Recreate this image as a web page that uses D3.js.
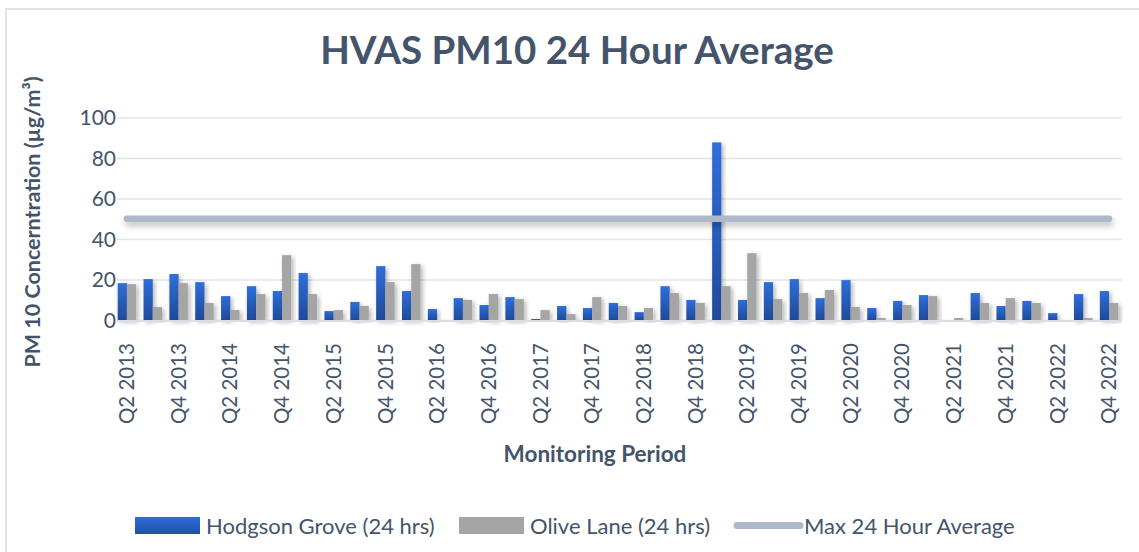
<!DOCTYPE html>
<html>
<head>
<meta charset="utf-8">
<script src="https://cdn.jsdelivr.net/npm/d3@7"></script>
<style>
  body { margin: 0; background: #fff; }
  text { font-family: Lato, "Open Sans", sans-serif; fill: #44546a; }
</style>
</head>
<body>
<div id="chart"></div>
<script>
// quarters, Q2 2013 .. Q4 2022
const periods = [
  'Q2 2013','Q3 2013','Q4 2013',
  'Q1 2014','Q2 2014','Q3 2014','Q4 2014',
  'Q1 2015','Q2 2015','Q3 2015','Q4 2015',
  'Q1 2016','Q2 2016','Q3 2016','Q4 2016',
  'Q1 2017','Q2 2017','Q3 2017','Q4 2017',
  'Q1 2018','Q2 2018','Q3 2018','Q4 2018',
  'Q1 2019','Q2 2019','Q3 2019','Q4 2019',
  'Q1 2020','Q2 2020','Q3 2020','Q4 2020',
  'Q1 2021','Q2 2021','Q3 2021','Q4 2021',
  'Q1 2022','Q2 2022','Q3 2022','Q4 2022'
];

const hodgsonGrove = [18.2, 20.2, 22.7, 18.7, 11.8, 16.7, 14.3, 23.2, 4.4, 8.9,
  26.6, 14.3, 5.4, 10.8, 7.4, 11.3, 0.5, 6.9, 5.9, 8.4,
  3.9, 16.7, 9.9, 87.7, 9.9, 18.7, 20.2, 10.8, 19.7, 5.9,
  9.4, 12.3, 0, 13.3, 6.9, 9.4, 3.4, 12.8, 14.3];

const oliveLane = [17.7, 6.4, 18.2, 8.4, 4.9, 12.8, 32.0, 12.8, 4.9, 6.9,
  18.7, 27.6, 0, 9.9, 12.8, 10.3, 4.9, 2.9, 11.3, 6.9,
  5.9, 13.3, 8.4, 16.7, 33.0, 10.3, 13.3, 14.8, 6.4, 1.0,
  7.4, 11.8, 1.0, 8.4, 10.8, 8.4, 0, 1.0, 8.4];

const maxAverage = 50; // criteria line
const yTicks = [0, 20, 40, 60, 80, 100];
const seriesNames = ['Hodgson Grove (24 hrs)', 'Olive Lane (24 hrs)', 'Max 24 Hour Average'];

const width = 1139;
const height = 552;
const plot = { left: 114, right: 1122, top: 117.5, bottom: 320 };

const svg = d3.select('#chart')
  .append('svg')
  .attr('width', width)
  .attr('height', height)
  .style('display', 'block');

const defs = svg.append('defs');

const grad = defs.append('linearGradient')
  .attr('id', 'blueGrad')
  .attr('x1', 0).attr('y1', 0).attr('x2', 0).attr('y2', 1);
grad.append('stop').attr('offset', '0%').attr('stop-color', '#2f6edc');
grad.append('stop').attr('offset', '100%').attr('stop-color', '#1f4a99');

const legendGrad = defs.append('linearGradient')
  .attr('id', 'blueGradLegend')
  .attr('x1', 0).attr('y1', 0).attr('x2', 0).attr('y2', 1);
legendGrad.append('stop').attr('offset', '0%').attr('stop-color', '#2f6edc');
legendGrad.append('stop').attr('offset', '100%').attr('stop-color', '#2050a3');

const shadow = defs.append('filter')
  .attr('id', 'shadow')
  .attr('x', '-50%').attr('y', '-20%')
  .attr('width', '200%').attr('height', '140%');
shadow.append('feDropShadow')
  .attr('dx', 2).attr('dy', 2)
  .attr('stdDeviation', 2.5)
  .attr('flood-color', '#000')
  .attr('flood-opacity', 0.3);

// line has a zero-height bbox, so this one works in user space
const lineShadow = defs.append('filter')
  .attr('id', 'lineShadow')
  .attr('filterUnits', 'userSpaceOnUse')
  .attr('x', 0).attr('y', 0)
  .attr('width', width).attr('height', height);
lineShadow.append('feDropShadow')
  .attr('dx', 1).attr('dy', 4)
  .attr('stdDeviation', 3)
  .attr('flood-color', '#000')
  .attr('flood-opacity', 0.25);

// chart frame
svg.append('rect')
  .attr('x', 6).attr('y', 9)
  .attr('width', width + 20).attr('height', height + 20)
  .attr('fill', '#fff')
  .attr('stroke', '#dfe2e6')
  .attr('stroke-width', 2);

// scales
const x = d3.scaleBand()
  .domain(periods)
  .range([plot.left, plot.right])
  .padding(0);

const xSeries = d3.scaleBand()
  .domain(['hg', 'ol'])
  .range([0, x.bandwidth()])
  .paddingInner(0)
  .paddingOuter(0.4);

const y = d3.scaleLinear()
  .domain([0, 100])
  .range([plot.bottom, plot.top]);

// grid
const gridY = d3.axisLeft(y)
  .tickValues(yTicks)
  .tickFormat('')
  .tickSize(-(plot.right - plot.left - 3))
  .tickSizeOuter(0);

svg.append('g')
  .attr('transform', `translate(${plot.left + 3}, 0)`)
  .call(gridY)
  .call(g => g.select('.domain').remove())
  .call(g => g.selectAll('line').attr('stroke', '#e1e4ea').attr('stroke-width', 1.6));

// y labels
const axisY = d3.axisLeft(y)
  .tickValues(yTicks)
  .tickSize(0)
  .tickPadding(0);

svg.append('g')
  .attr('transform', `translate(${plot.left + 2}, 0)`)
  .call(axisY)
  .call(g => g.select('.domain').remove())
  .call(g => g.selectAll('text')
    .attr('font-size', 21)
    .attr('font-family', 'Lato, sans-serif')
    .attr('fill', '#44546a')
    .attr('dy', '0.35em'));

// bars
const groups = svg.append('g')
  .selectAll('g')
  .data(periods)
  .join('g')
  .attr('transform', d => `translate(${x(d)}, 0)`);

groups.append('rect')
  .attr('x', xSeries('hg'))
  .attr('y', (d, i) => y(hodgsonGrove[i]))
  .attr('width', xSeries.bandwidth())
  .attr('height', (d, i) => y(0) - y(hodgsonGrove[i]))
  .attr('fill', 'url(#blueGrad)')
  .attr('filter', (d, i) => hodgsonGrove[i] > 0 ? 'url(#shadow)' : null);

groups.append('rect')
  .attr('x', xSeries('ol'))
  .attr('y', (d, i) => y(oliveLane[i]))
  .attr('width', xSeries.bandwidth())
  .attr('height', (d, i) => y(0) - y(oliveLane[i]))
  .attr('fill', '#a5a5a5')
  .attr('filter', (d, i) => oliveLane[i] > 0 ? 'url(#shadow)' : null);

// x axis line
svg.append('line')
  .attr('x1', plot.left + 3).attr('x2', plot.right)
  .attr('y1', y(0) + 1).attr('y2', y(0) + 1)
  .attr('stroke', '#d9dde6')
  .attr('stroke-width', 2);

// max line
const line = d3.line()
  .x(d => x(d) + x.bandwidth() / 2)
  .y(() => y(maxAverage));

svg.append('path')
  .datum(periods)
  .attr('d', line)
  .attr('fill', 'none')
  .attr('stroke', '#adb9ca')
  .attr('stroke-width', 6.5)
  .attr('stroke-linecap', 'round')
  .attr('filter', 'url(#lineShadow)');

// x labels (every second quarter)
const axisX = d3.axisBottom(x)
  .tickValues(periods.filter((d, i) => i % 2 === 0))
  .tickSize(0);

svg.append('g')
  .attr('transform', `translate(0, ${plot.bottom})`)
  .call(axisX)
  .call(g => g.select('.domain').remove())
  .call(g => g.selectAll('text')
    .attr('font-size', 20.5)
    .attr('font-family', 'Lato, sans-serif')
    .attr('fill', '#44546a')
    .attr('text-anchor', 'end')
    .attr('transform', 'rotate(-90)')
    .attr('x', -23)
    .attr('y', 0)
    .attr('dy', '0.35em'));

// titles
svg.append('text')
  .attr('x', 577)
  .attr('y', 64)
  .attr('text-anchor', 'middle')
  .attr('font-size', 38.5)
  .attr('font-weight', 'bold')
  .text('HVAS PM10 24 Hour Average');

svg.append('text')
  .attr('x', 595)
  .attr('y', 462)
  .attr('text-anchor', 'middle')
  .attr('font-size', 22.5)
  .attr('font-weight', 'bold')
  .text('Monitoring Period');

svg.append('text')
  .attr('transform', 'translate(40, 222) rotate(-90)')
  .attr('text-anchor', 'middle')
  .attr('font-size', 21.5)
  .attr('font-weight', 'bold')
  .text('PM 10 Concerntration (µg/m³)');

// legend
const legendX = [135, 459, 733];
const legend = svg.append('g');

legend.append('rect')
  .attr('x', legendX[0]).attr('y', 517)
  .attr('width', 65).attr('height', 17)
  .attr('fill', 'url(#blueGradLegend)');

legend.append('rect')
  .attr('x', legendX[1]).attr('y', 517)
  .attr('width', 65).attr('height', 17)
  .attr('fill', '#a5a5a5');

legend.append('line')
  .attr('x1', legendX[2] + 4).attr('x2', legendX[2] + 67)
  .attr('y1', 525.5).attr('y2', 525.5)
  .attr('stroke', '#adb9ca')
  .attr('stroke-width', 7)
  .attr('stroke-linecap', 'round');

legend.selectAll('text')
  .data(seriesNames)
  .join('text')
  .attr('x', (d, i) => legendX[i] + 71)
  .attr('y', 526)
  .attr('dy', '0.35em')
  .attr('font-size', 22)
  .text(d => d);
</script>
</body>
</html>
